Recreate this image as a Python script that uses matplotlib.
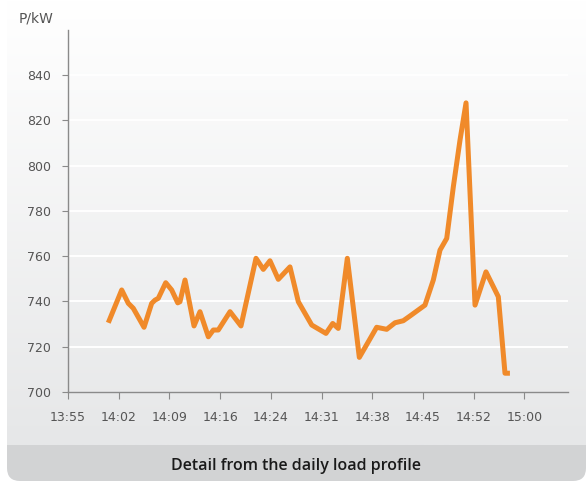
import matplotlib.pyplot as plt
import numpy as np
from matplotlib.patches import FancyBboxPatch, Rectangle
from matplotlib.colors import LinearSegmentedColormap

# minutes after 13:55 and load in kW
minutes = [5.74, 7.65, 8.59, 9.30, 10.83, 11.92, 12.39, 12.86, 13.92, 14.77,
           15.63, 15.95, 16.67, 17.95, 18.80, 19.99, 20.70, 21.41, 23.08, 24.64,
           26.78, 27.82, 28.77, 29.96, 31.62, 32.81, 34.72, 36.75, 37.71, 38.50,
           39.79, 41.50, 43.97, 45.40, 46.58, 47.76, 48.72, 50.85, 52.04, 52.99,
           53.95, 54.89, 55.84, 56.70, 57.98, 59.54, 61.30, 62.25, 62.95]
load_kw = [730.6, 745.1, 739.2, 737.0, 728.6, 739.2, 740.6, 741.4, 748.3, 745.1,
           739.4, 739.9, 749.5, 729.2, 735.5, 724.4, 727.4, 727.4, 735.5, 729.2,
           759.1, 754.2, 758.0, 749.8, 755.3, 739.9, 729.6, 725.9, 730.3, 728.1,
           759.1, 715.3, 728.6, 727.7, 730.6, 731.5, 733.6, 738.4, 749.5, 762.7,
           767.9, 790.7, 811.3, 827.8, 738.4, 753.1, 742.1, 708.3, 708.3]

time_labels = ["13:55", "14:02", "14:09", "14:16", "14:24", "14:31",
               "14:38", "14:45", "14:52", "15:00"]
y_ticks = [700, 720, 740, 760, 780, 800, 820, 840]

W, H = 587, 482
fig = plt.figure(figsize=(W / 100, H / 100), dpi=100, facecolor="white")

# background card with gradient and caption strip
bg = fig.add_axes([0, 0, 1, 1], zorder=-10)
bg.set_xlim(0, W)
bg.set_ylim(H, 0)
bg.axis("off")
card = FancyBboxPatch((7, -20), W - 8, H - 1 + 20, boxstyle="round,pad=0,rounding_size=13",
                      facecolor="none", edgecolor="none")
bg.add_patch(card)
grad = np.linspace(0, 1, 256).reshape(-1, 1)
cmap = LinearSegmentedColormap.from_list("bgc", ["#ffffff", "#e6e7e8"])
im = bg.imshow(grad, cmap=cmap, extent=(0, W, 445, 0), aspect="auto")
im.set_clip_path(card)
strip = Rectangle((0, 445), W, H - 445, facecolor="#d2d3d4", edgecolor="none")
bg.add_patch(strip)
strip.set_clip_path(card)
bg.text(296, 466, "Detail from the daily load profile", ha="center", va="center",
        fontsize=11.5, fontweight="semibold", family="Open Sans", color="#1a1a1a")

# chart
ax = fig.add_axes([68 / W, 1 - 392 / H, (568 - 68) / W, (392 - 30) / H])
ax.patch.set_alpha(0)
step = 65 / 9
ax.set_xlim(0, (568 - 68) / 50.7 * step)
ax.set_ylim(700, 860)
ax.set_yticks(y_ticks)
ax.set_xticks([i * step for i in range(len(time_labels))])
ax.set_xticklabels(time_labels)
for v in y_ticks[1:]:
    ax.axhline(v, color="white", lw=1.4, zorder=1)
ax.plot(minutes, load_kw, color="#f08a2a", lw=3.6, solid_joinstyle="round",
        solid_capstyle="butt", zorder=3)

for s in ["top", "right"]:
    ax.spines[s].set_visible(False)
for s in ["left", "bottom"]:
    ax.spines[s].set_color("#8a8a8a")
    ax.spines[s].set_linewidth(1.0)
ax.tick_params(axis="y", length=4, width=0.8, color="#8a8a8a", pad=8,
               labelsize=9, labelcolor="#555555")
ax.tick_params(axis="x", length=5, width=0.8, color="#8a8a8a", pad=9,
               labelsize=9, labelcolor="#555555")
fig.text(19 / W, 1 - 18 / H, "P/kW", fontsize=10, color="#555555", va="center", ha="left")

fig.savefig("out.png", dpi=100, facecolor="white")
